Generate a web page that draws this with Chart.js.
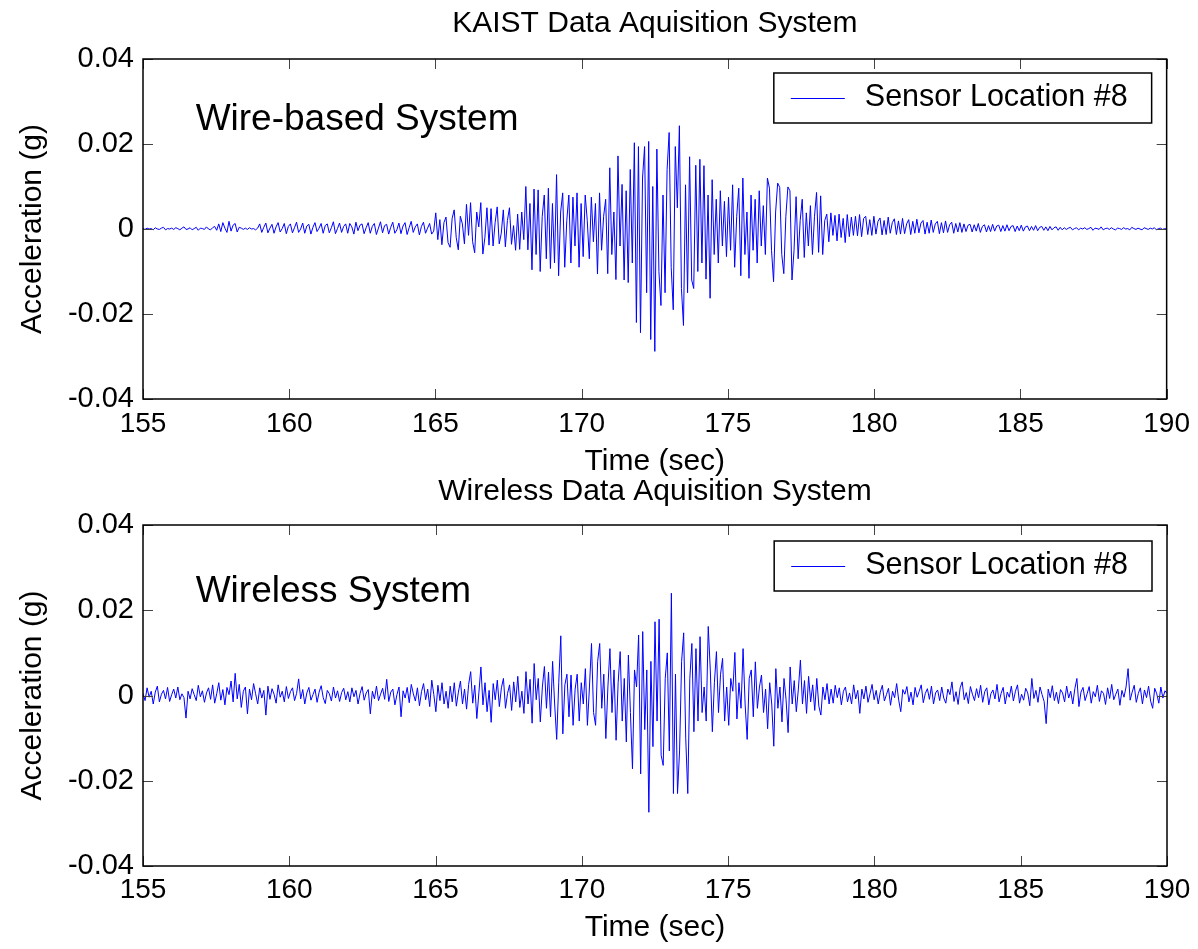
<!DOCTYPE html>
<html>
<head>
<meta charset="utf-8">
<title>KAIST vs Wireless Data Aquisition System</title>
<script src="https://cdn.jsdelivr.net/npm/chart.js@4.4.1/dist/chart.umd.min.js"></script>
<style>
  html, body { margin: 0; padding: 0; background: #fff; }
  #wrap { position: relative; width: 1198px; height: 949px; overflow: hidden; }
  #wiredChart { position: absolute; left: 0; top: 0; }
  #wirelessChart { position: absolute; left: 0; top: 460px; }
</style>
</head>
<body>
<div id="wrap">
  <canvas id="wiredChart" width="1198" height="480"></canvas>
  <canvas id="wirelessChart" width="1198" height="489"></canvas>
</div>
<script>
// time axis (sec) - samples are evenly spaced between these
const timeStart = 155;
const timeEnd = 190;

// acceleration, in milli-g (0.001 g)
const wiredMg = [
  // 155 - 158.4
  0.1, -0.1, 0.2, 0, 0.1, -0.2, 0.3, 0, -0.1, 0.2, 0.4, -0.2, 0.1, 0, 0.2, -0.1, 0.3, 0.1, -0.2, 0.2,
  0.5, -0.1, 0, 0.3, -0.2, 0.1, 0.4, -0.3, 0.2, 0.1, -0.1, 0.5, 0, -0.2, 0.3, 0.6, -0.3, 1.2, -0.6, 1.5,
  0.2, -0.8, 1.8, -0.5, 0.9, 1.3, -0.7, 0.4, 0.2, -0.1,
  // 158.5 - 161.9
  0.2, -0.1, 0.3, 0, 0.1, -0.2, 0.2, 1.2, -0.8, 0.4, 1.4, -0.9, 0.2, 1.1, -1.0, 0.5, 1.5, -0.7, 0.1, 1.3,
  -1.1, 0.6, 1.2, -0.9, 0.3, 1.6, -0.8, 0.0, 1.4, -1.0, 0.7, 1.1, -1.2, 0.4, 1.5, -0.6, 0.2, 1.3, -1.0, 0.8,
  1.2, -0.9, 0.3, 1.7, -1.1, 0.1, 1.4, -0.8, 0.6, 1.2,
  // 162 - 165.4
  -1.0, 1.3, 0.5, -1.2, 1.6, -0.4, 0.9, 1.2, -1.1, 0.3, 1.5, -1.0, 0.6, 1.3, -1.3, 0.2, 1.7, -0.9, 0.8, 1.1,
  -1.2, 0.4, 1.6, -1.0, -0.2, 1.4, -1.1, 0.7, 1.5, -1.3, 0.3, 1.8, -0.8, 0.5, 1.2, -1.4, 0.6, 1.6, -1.0, 0.2,
  1.3, -1.2, -0.5, 3.8, -2.5, 2.2, -3.7, 1.5, 2.8, -3.2,
  // 165.5 - 168.9
  -4.3, 2.5, 4.5, -2.0, -4.9, 3.0, 1.2, -3.5, 5.8, -1.5, 6.2, -3.0, -5.6, 4.0, 0.5, 6.2, -5.9, -2.0, 5.0, -3.8,
  4.8, -4.0, 1.5, 5.2, -3.5, -1.0, 4.5, -4.2, 2.0, 5.0, -3.6, 0.8, -5.0, 3.5, -4.8, 4.0, -2.5, 10.0, -4.9, 6.0,
  -9.6, 9.4, -6.0, 9.2, -10.0, 3.0, 8.0, -7.0, 9.6, -9.3,
  // 169 - 172.4
  6.0, -8.0, 12.8, -11.0, 4.0, 8.5, -9.0, 2.0, 8.0, -8.0, 7.5, -4.0, 8.5, -9.0, 6.0, -6.5, 8.0, 2.0, -7.0, 7.5,
  -3.0, 6.0, -10.6, 8.5, -5.0, 3.0, 7.0, -10.5, 14.4, -6.0, 4.0, -11.9, 17.2, -4.0, 10.5, -12.0, 9.0, -12.6, 14.0, -8.0,
  20.3, -22.0, 19.4, -24.4, 12.0, 19.4, -15.0, 20.6, -26.0, 10.0,
  // 172.5 - 175.9
  -28.8, 18.8, -10.0, -18.0, 8.0, -15.0, 14.0, 22.7, -9.0, -19.0, 19.4, 5.0, 24.3, -14.0, -22.7, 10.4, -15.0, 17.0, -12.0, -14.0,
  15.0, -10.0, 16.4, -8.0, 14.9, -11.8, 8.0, -16.3, 11.6, -6.0, 7.0, -8.0, 9.0, -4.0, 6.5, -6.5, 7.5, -5.0, 10.4, -9.0,
  3.0, 9.6, -11.0, 12.0, -6.0, 4.0, -11.6, 8.0, -5.0, 7.0,
  // 176 - 179.4
  -8.0, 9.0, -4.0, 5.5, -6.0, 12.0, 9.6, -5.0, -12.4, 4.0, 10.8, 9.8, -6.0, -10.5, 3.0, 9.9, 9.0, -12.0, -5.0, 7.6,
  -7.0, 2.0, 7.0, -6.7, 3.8, -4.0, 5.5, -6.0, 3.0, 8.6, -5.5, 7.8, -6.0, 2.0, 3.5, -3.0, 3.8, -1.5, 3.2, -2.8,
  3.5, -2.0, 2.5, -3.2, 3.4, -1.8, 2.8, -1.5, 3.0, -1.6,
  // 179.5 - 182.9
  3.4, -1.8, 2.5, 3.0, -1.3, 2.2, -1.5, 3.0, -1.2, 1.8, 2.6, -1.4, 2.0, -1.3, 2.8, -1.0, 1.5, 2.4, -1.3, 1.9,
  -1.2, 2.5, -1.1, 1.2, 2.2, -1.3, 1.8, -1.0, 2.3, -0.9, 1.4, 2.0, -1.2, 1.6, -1.0, 2.1, -0.8, 1.2, 1.8, -1.1,
  1.5, -0.9, 1.9, -0.8, 1.0, 1.6, -1.0, 1.3, -0.7, 1.5,
  // 183 - 186.4
  -0.8, 1.2, -0.6, 0.9, 1.1, -0.7, 1.0, -0.5, 1.3, -0.8, 0.6, 1.0, -0.7, 0.8, -0.6, 1.1, -0.5, 0.7, 0.9, -0.6,
  0.8, -0.5, 1.0, -0.4, 0.6, 0.8, -0.6, 0.7, -0.4, 0.9, -0.5, 0.5, 0.7, -0.4, 0.6, -0.3, 0.8, -0.4, 0.4, 0.6,
  -0.3, 0.5, -0.4, 0.6, -0.2, 0.3, 0.5, -0.3, 0.4, -0.2,
  // 186.5 - 190
  0.3, -0.1, 0.2, 0.4, -0.2, 0.1, 0.3, -0.2, 0.2, 0, 0.3, -0.1, 0.1, 0.4, -0.3, 0.2, 0.1, -0.1, 0.5, -0.2,
  0.1, 0.2, -0.1, 0.3, 0, -0.2, 0.2, 0.1, -0.1, 0.3, 0, 0.1, -0.2, 0.4, 0.1, -0.1, 0.2, 0, -0.2, 0.3,
  0.1, -0.1, 0.2, 0, 0.3, -0.2, 0.1, 0.2, -0.1, 0.1, 0
];

const wirelessMg = [
  // 155 - 158.4
  0.5, -1.2, 1.8, -0.4, 1.0, -2.0, 0.8, 2.2, -1.5, 0.3, 1.2, -0.8, 1.9, -1.4, 0.2, 1.5, -0.6, 2.0, -1.0, 0.4,
  -0.5, -5.3, 1.0, -0.8, 1.6, 0.2, -1.2, 2.4, -0.3, 1.1, -1.6, 0.6, 1.8, -0.9, 2.5, -1.8, 0.4, 3.0, -1.1, 1.4,
  -2.2, 1.9, 0.2, 3.4, -1.5, 5.2, -0.8, 2.6, -2.8, 1.0,
  // 158.5 - 161.9
  2.0, -4.3, 1.5, -1.0, 2.8, 0.4, -2.0, 1.8, -0.6, 1.2, -4.6, 2.2, -0.9, 1.6, 0.3, -1.8, 2.5, -0.4, 1.0, -1.5,
  2.1, -0.7, 0.9, 1.8, -1.2, 0.5, 3.9, -0.8, 1.4, -2.0, 0.6, 1.9, -1.1, 0.2, 1.5, -1.6, 0.8, 2.3, -0.5, -1.9,
  1.2, 0.4, -1.3, 2.0, -0.6, 1.1, -1.4, 0.7, 1.7, -1.0,
  // 162 - 165.4
  0.9, -1.5, 1.8, -0.3, 1.2, -2.0, 0.5, 2.1, -1.1, 0.6, 1.4, -4.3, 1.0, -0.8, 2.2, -1.2, 0.3, 1.7, -0.9, 3.8,
  -1.4, 0.8, 1.5, -2.2, 0.2, 2.0, -5.0, 1.1, -0.6, 1.9, -1.7, 2.6, 0.4, -1.3, 1.8, -2.4, 0.9, 2.8, -1.0, 1.5,
  -2.6, 3.6, 0.2, -3.8, 2.4, -1.2, 3.0, -2.0, 1.0, -3.0,
  // 165.5 - 168.9
  2.2, -1.5, 3.0, -2.5, 0.8, 3.4, -2.0, 1.5, -3.2, 2.6, 5.6, -1.8, 2.4, -5.4, 0.6, 6.7, -2.2, 3.0, -3.8, 1.2,
  -6.3, 2.8, -1.0, 3.6, -2.6, 1.8, 4.0, -3.0, 0.5, 2.5, -3.5, 3.2, -1.5, 4.5, -2.8, 1.0, -4.2, 5.6, -2.0, 3.8,
  -6.5, 7.5, -1.0, 4.0, -6.2, 2.0, 6.8, -3.0, 5.5, -5.0,
  // 169 - 172.4
  8.0, -2.0, -10.3, 3.0, 14.0, -9.0, 2.5, 5.0, -5.0, 4.8, -7.0, 1.5, 5.0, -6.0, 3.0, -2.0, 6.3, -7.0, 2.0, 12.2,
  -4.0, -7.0, 8.0, 12.2, -3.0, 5.0, -10.1, 2.0, 11.0, -4.0, 6.0, -10.5, 3.0, 10.3, -6.0, 4.0, -10.9, 9.5, -4.0, -17.2,
  6.0, 2.0, 14.2, -18.4, 15.0, -8.0, 6.0, -27.4, 8.0, -12.0,
  // 172.5 - 175.9
  17.3, -6.0, 17.9, -14.0, -16.4, 4.0, 10.0, -13.0, 24.0, -23.0, 5.0, -23.0, -13.0, 8.0, 14.7, -10.0, -23.0, 4.0, 12.2, -8.5,
  11.0, -6.0, 13.8, -4.0, 2.0, -6.0, 16.2, 6.0, -8.5, 3.0, 10.3, -4.0, 5.0, 8.7, -6.0, 2.0, -7.0, 4.0, 1.0, 10.1,
  -5.5, 3.0, -3.0, 11.0, -2.0, -10.3, 4.0, 6.0, -5.0, 7.9,
  // 176 - 179.4
  -3.0, 2.0, 4.8, -4.0, 1.5, -7.8, 3.0, -2.0, -11.9, 6.3, -3.0, 2.0, -6.2, 4.0, -1.0, -8.7, 6.7, -2.0, 3.5, -3.8,
  1.5, 8.3, -2.0, 3.5, -4.2, 4.5, -1.5, 2.5, -3.5, 4.0, -2.5, -4.6, 2.0, -1.0, 2.8, -2.0, 1.5, -1.8, 2.4, -0.5,
  1.8, -2.2, 1.0, 2.0, -1.5, 0.6, -2.0, 2.5, -0.8, 1.2,
  // 179.5 - 182.9
  -4.2, 1.5, -0.8, 2.2, -1.6, 0.4, 2.6, -1.0, 1.2, -2.0, 0.8, 2.4, -1.3, 0.2, 1.7, -2.3, 1.0, -0.5, 2.8, -1.1,
  -3.8, 1.4, 0.3, 2.1, -1.5, 0.8, -2.2, 1.9, -0.4, 1.0, 2.5, -1.7, 0.5, 1.6, -0.9, 2.2, -2.0, 0.6, 1.3, -1.2,
  2.0, -0.6, -1.8, 1.5, 0.2, 3.2, -1.4, 0.9, -2.1, 1.8,
  // 183 - 186.4
  3.2, -1.0, 0.7, -1.9, 2.1, 0.3, -1.2, 1.6, -0.5, 2.4, -1.6, 0.9, 1.8, -2.2, 0.4, 1.3, -0.8, 2.6, -1.5, 0.5,
  1.9, -2.0, 0.8, -0.4, 2.2, -1.3, 1.0, 2.5, -1.8, 0.3, -1.1, 1.7, 0.6, -2.4, 4.0, -0.7, 1.2, -1.6, 2.0, 0.2,
  -1.4, -6.6, 1.5, -0.5, 2.3, -1.2, 0.8, -1.9, 1.4, 0.6,
  // 186.5 - 190
  -1.5, 2.2, -0.6, 1.0, -2.0, 1.6, 4.0, -2.6, 0.8, 1.9, -1.2, 0.4, 2.1, -1.8, 0.9, -0.3, 2.4, -1.4, 1.1, 0.5,
  -2.1, 1.8, -0.7, 2.6, -1.0, 0.3, 1.5, -2.3, 1.2, -0.4, 2.0, 6.3, -1.1, 0.8, 2.4, -1.6, 0.5, 1.8, -2.0, 1.3,
  -0.5, 2.2, -1.3, -3.0, 1.7, 0.4, -1.8, 2.0, -0.6, 1.1, 0.5
];

const yTicks = [-0.04, -0.02, 0, 0.02, 0.04];
const legendLabel = 'Sensor Location #8';

const FONT = '"Liberation Sans", Arial, Helvetica, sans-serif';
Chart.defaults.font.family = FONT;
Chart.defaults.color = '#000';

// mg list -> {x: sec, y: g}
function toPoints(values) {
  const step = (timeEnd - timeStart) / (values.length - 1);
  return values.map((v, i) => ({ x: timeStart + i * step, y: v / 1000 }));
}

function tickLabel(v) {
  if (Math.abs(v) < 1e-9) return '0';
  return v.toFixed(2);
}

// box, inward ticks, in-plot caption and legend, matlab style
const matlabFrame = {
  id: 'matlabFrame',
  afterDatasetsDraw(chart, args, opts) {
    const { ctx, chartArea: a, scales: { x, y } } = chart;
    ctx.save();

    ctx.strokeStyle = '#444';
    ctx.lineWidth = 1;
    ctx.beginPath();
    x.ticks.forEach(t => {
      const px = Math.round(x.getPixelForValue(t.value)) + 0.5;
      ctx.moveTo(px, a.top); ctx.lineTo(px, a.top + 10);
      ctx.moveTo(px, a.bottom); ctx.lineTo(px, a.bottom - 10);
    });
    y.ticks.forEach(t => {
      const py = Math.round(y.getPixelForValue(t.value)) + 0.5;
      ctx.moveTo(a.left, py); ctx.lineTo(a.left + 10, py);
      ctx.moveTo(a.right, py); ctx.lineTo(a.right - 10, py);
    });
    ctx.stroke();

    ctx.strokeStyle = '#000';
    ctx.lineWidth = 1.5;
    ctx.strokeRect(a.left, a.top, a.right - a.left, a.bottom - a.top);

    // caption inside the plot
    ctx.fillStyle = '#000';
    ctx.font = '37px ' + FONT;
    ctx.textAlign = 'left';
    ctx.textBaseline = 'middle';
    ctx.fillText(opts.note, x.getPixelForValue(opts.noteAt[0]), y.getPixelForValue(opts.noteAt[1]));

    // legend box
    const ds = chart.data.datasets[0];
    ctx.font = '30.5px ' + FONT;
    const textW = ctx.measureText(ds.label).width;
    const boxW = 91 + textW + 24, boxH = 50;
    const bx = a.right - 15 - boxW, by = a.top + opts.legendTop;
    ctx.fillStyle = '#fff';
    ctx.fillRect(bx, by, boxW, boxH);
    ctx.strokeStyle = '#000';
    ctx.lineWidth = 1.5;
    ctx.strokeRect(bx, by, boxW, boxH);
    ctx.strokeStyle = ds.borderColor;
    ctx.lineWidth = 1;
    ctx.beginPath();
    ctx.moveTo(bx + 17, by + boxH / 2 + 0.5);
    ctx.lineTo(bx + 71, by + boxH / 2 + 0.5);
    ctx.stroke();
    ctx.fillStyle = '#000';
    ctx.fillText(ds.label, bx + 91, by + boxH / 2);

    ctx.restore();
  }
};

function makeChart(canvasId, values, title, note, layout) {
  const canvas = document.getElementById(canvasId);
  return new Chart(canvas, {
    type: 'line',
    data: {
      datasets: [{
        label: legendLabel,
        data: toPoints(values),
        borderColor: '#0000ff',
        borderWidth: 1,
        pointRadius: 0,
        tension: 0,
        fill: false
      }]
    },
    options: {
      responsive: false,
      animation: false,
      parsing: false,
      normalized: true,
      layout: { padding: { left: 0, right: 31, top: 0, bottom: 0 } },
      scales: {
        x: {
          type: 'linear',
          min: timeStart,
          max: timeEnd,
          ticks: { stepSize: 5, padding: layout.xTickPad, font: { size: 28 }, color: '#000' },
          grid: { display: false, drawTicks: false },
          border: { display: false },
          title: { display: true, text: 'Time (sec)', font: { size: 30 }, color: '#000', padding: { top: 0, bottom: layout.xTitlePad } },
          afterFit: s => { s.height = layout.xHeight; }
        },
        y: {
          min: -0.04,
          max: 0.04,
          afterBuildTicks: s => { s.ticks = yTicks.map(v => ({ value: v })); },
          ticks: { padding: 9, font: { size: 29 }, color: '#000', callback: tickLabel },
          grid: { display: false, drawTicks: false },
          border: { display: false },
          title: { display: true, text: 'Acceleration (g)', font: { size: 30 }, color: '#000', padding: { top: 15, bottom: 0 } },
          afterFit: s => { s.width = 143; }
        }
      },
      plugins: {
        legend: { display: false },
        tooltip: { enabled: false },
        title: {
          display: true,
          text: title,
          fullSize: false,
          color: '#000',
          font: { size: 30, weight: 'normal' },
          padding: layout.titlePad
        },
        matlabFrame: { note: note.text, noteAt: note.at, legendTop: layout.legendTop }
      }
    },
    plugins: [matlabFrame]
  });
}

makeChart('wiredChart', wiredMg, 'KAIST Data Aquisition System',
  { text: 'Wire-based System', at: [156.8, 0.0257] },
  { titlePad: { top: 6, bottom: 17 }, xTickPad: 8, xTitlePad: 0, xHeight: 81, legendTop: 14 });

makeChart('wirelessChart', wirelessMg, 'Wireless Data Aquisition System',
  { text: 'Wireless System', at: [156.8, 0.0243] },
  { titlePad: { top: 14, bottom: 15 }, xTickPad: 7, xTitlePad: 3, xHeight: 83, legendTop: 16 });
</script>
</body>
</html>
